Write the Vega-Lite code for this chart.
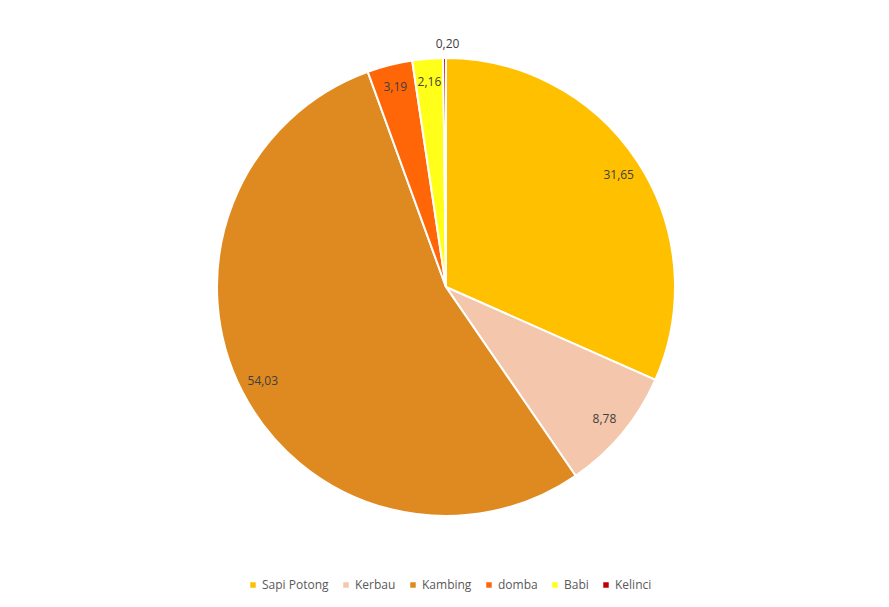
{
  "$schema": "https://vega.github.io/schema/vega-lite/v6.json",
  "width": 888,
  "height": 574,
  "autosize": {"type": "none"},
  "padding": {"left": 2, "top": 0, "right": 0, "bottom": 33},
  "background": "white",
  "config": {
    "view": {"stroke": null},
    "font": "Open Sans"
  },
  "data": {
    "values": [
      {"jenis": "Sapi Potong", "nilai": 31.65, "label": "31,65", "urut": 1},
      {"jenis": "Kerbau", "nilai": 8.78, "label": "8,78", "urut": 2},
      {"jenis": "Kambing", "nilai": 54.03, "label": "54,03", "urut": 3},
      {"jenis": "domba", "nilai": 3.19, "label": "3,19", "urut": 4},
      {"jenis": "Babi", "nilai": 2.16, "label": "2,16", "urut": 5},
      {"jenis": "Kelinci", "nilai": 0.20, "label": "0,20", "urut": 6}
    ]
  },
  "encoding": {
    "theta": {"field": "nilai", "type": "quantitative", "stack": true},
    "order": {"field": "urut", "type": "quantitative"}
  },
  "layer": [
    {
      "mark": {"type": "arc", "outerRadius": 229, "stroke": "white", "strokeWidth": 2},
      "encoding": {
        "color": {
          "field": "jenis",
          "type": "nominal",
          "sort": ["Sapi Potong", "Kerbau", "Kambing", "domba", "Babi", "Kelinci"],
          "scale": {
            "domain": ["Sapi Potong", "Kerbau", "Kambing", "domba", "Babi", "Kelinci"],
            "range": ["#FFC000", "#F4C6AB", "#DF8A20", "#FF6608", "#FFFF1A", "#C00000"]
          },
          "legend": {
            "title": null,
            "orient": "none",
            "direction": "horizontal",
            "legendX": 245,
            "legendY": 579,
            "symbolType": "square",
            "symbolSize": 30,
            "symbolStrokeWidth": 0,
            "labelFontSize": 12,
            "labelColor": "#595959",
            "labelFont": "Open Sans",
            "columnPadding": 11,
            "symbolOffset": 0,
            "labelOffset": 3
          }
        }
      }
    },
    {
      "transform": [{"filter": "datum.jenis != 'Kelinci'"}],
      "mark": {"type": "text", "radius": 206, "fontSize": 12, "fill": "#404040"},
      "encoding": {"text": {"field": "label"}}
    },
    {
      "transform": [{"filter": "datum.jenis == 'Kelinci'"}],
      "mark": {"type": "text", "radius": 243, "fontSize": 12, "fill": "#404040"},
      "encoding": {"text": {"field": "label"}}
    }
  ]
}
